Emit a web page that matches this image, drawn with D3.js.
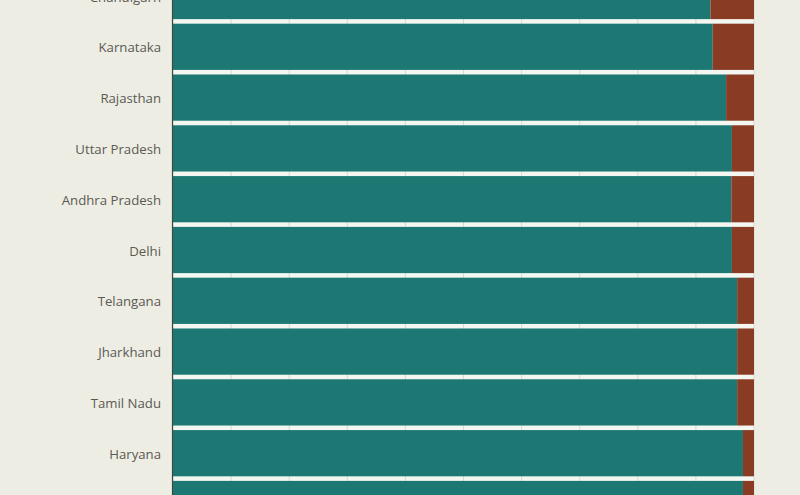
<!DOCTYPE html>
<html>
<head>
<meta charset="utf-8">
<script src="https://cdn.jsdelivr.net/npm/d3@7.9.0/dist/d3.min.js"></script>
<style>
  html, body { margin: 0; padding: 0; background: #eeede3; overflow: hidden; }
  text { font-family: "Open Sans", "Noto Sans", sans-serif; }
</style>
</head>
<body>
<div id="chart"></div>
<script>
// states visible in the crop, top to bottom
const states = ["Chandigarh", "Karnataka", "Rajasthan", "Uttar Pradesh", "Andhra Pradesh",
  "Delhi", "Telangana", "Jharkhand", "Tamil Nadu", "Haryana", "Punjab"];
// share of first (teal) segment, percent
const tealShare = [92.5, 92.9, 95.2, 96.2, 96.1, 96.2, 97.1, 97.1, 97.1, 98.1, 98.1];
// share of second (brown) segment, percent
const brownShare = [7.5, 7.1, 4.8, 3.8, 3.9, 3.8, 2.9, 2.9, 2.9, 1.9, 1.9];
const gridTicks = [0, 10, 20, 30, 40, 50, 60, 70, 80, 90, 100];

const width = 800, height = 495;

let svg = d3.select("#chart")
    .append("svg")
    .attr("width", width)
    .attr("height", height);

let x = d3.scaleLinear()
    .domain([0, 100])
    .range([173, 754]);

// band step is ~50.8px, first bar runs off the top
let y = d3.scaleBand()
    .domain(states)
    .range([-29.4, -29.4 + states.length * 50.8])
    .paddingInner(0.09)
    .paddingOuter(0.045);

// light plot backing, shows through the gaps between bars
svg.append("rect")
    .attr("x", x(0))
    .attr("y", 0)
    .attr("width", x(100) - x(0))
    .attr("height", height)
    .attr("fill", "#f3f6f1");

svg.append("g")
    .selectAll("line")
    .data(gridTicks)
    .join("line")
    .attr("x1", d => x(d))
    .attr("x2", d => x(d))
    .attr("y1", 0)
    .attr("y2", height)
    .attr("stroke", "#d6dad2")
    .attr("stroke-width", 1);

let rows = svg.append("g")
    .selectAll("g")
    .data(states)
    .join("g");

rows.append("rect")
    .attr("x", x(0))
    .attr("y", d => y(d))
    .attr("width", (d, i) => x(tealShare[i]) - x(0))
    .attr("height", y.bandwidth())
    .attr("fill", "#1d7874");

rows.append("rect")
    .attr("x", (d, i) => x(tealShare[i]))
    .attr("y", d => y(d))
    .attr("width", (d, i) => x(tealShare[i] + brownShare[i]) - x(tealShare[i]))
    .attr("height", y.bandwidth())
    .attr("fill", "#8a3b24");

// y axis with state names
let yAxis = svg.append("g")
    .attr("transform", `translate(${x(0) - 1},0)`)
    .call(d3.axisLeft(y).tickSize(0).tickPadding(11));

yAxis.select(".domain")
    .attr("stroke", "#3c4a44")
    .attr("stroke-width", 1.2);

yAxis.selectAll("text")
    .attr("fill", "#5a5a55")
    .attr("font-size", 13.2)
    .attr("dy", "0.42em")
    .style("font-family", "'Open Sans', 'Noto Sans', sans-serif");
</script>
</body>
</html>
